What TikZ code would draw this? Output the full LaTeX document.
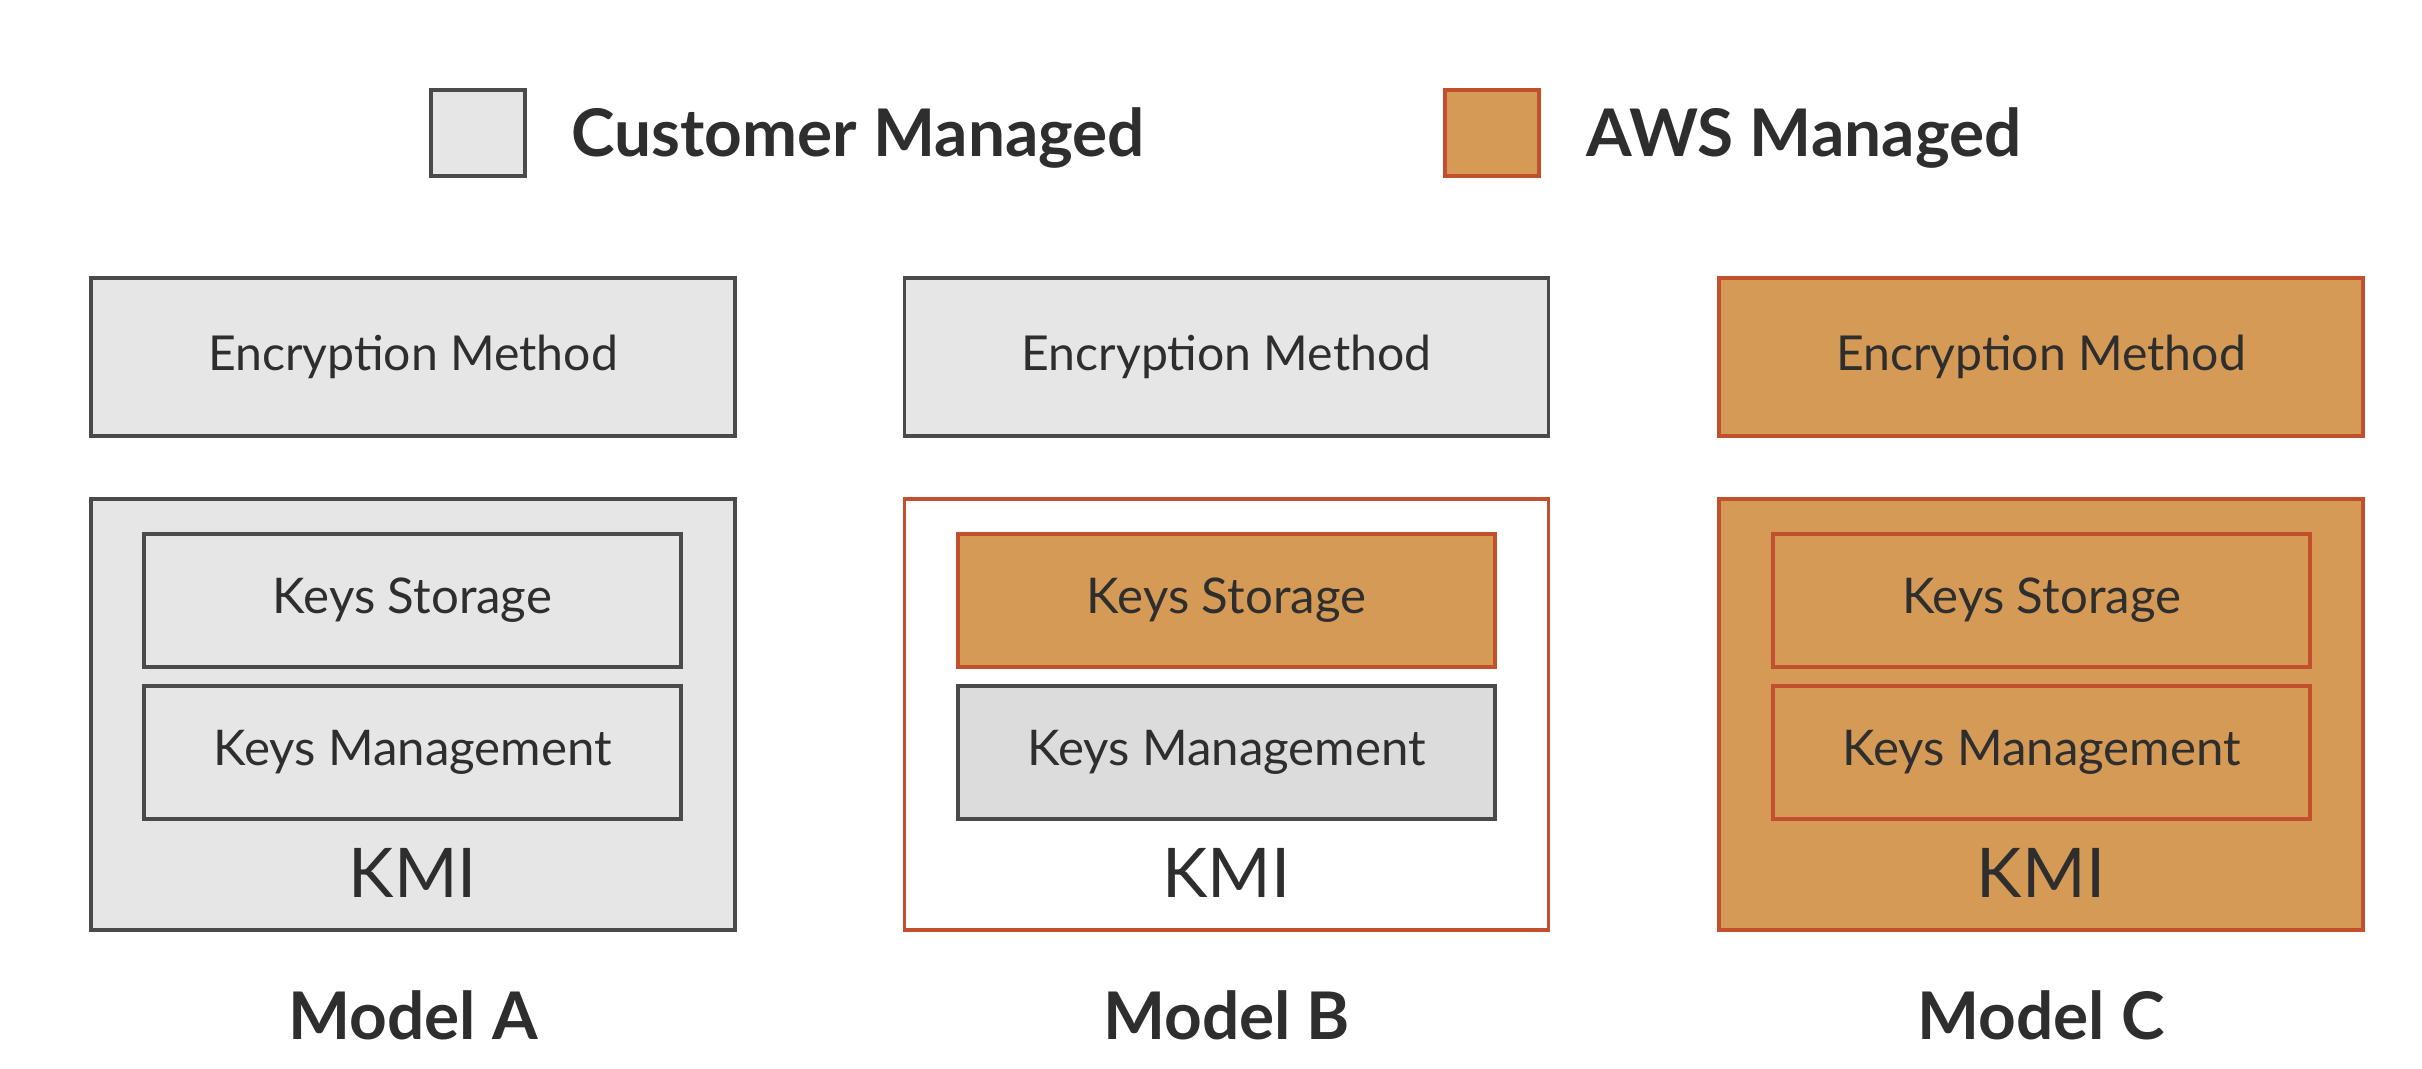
\documentclass[tikz,border=0pt]{standalone}
\usepackage{fontspec}
\setmainfont{Lato}
\usepackage{tikz}
\definecolor{custfill}{HTML}{E6E6E6}
\definecolor{custfilldk}{HTML}{DCDCDC}
\definecolor{custline}{HTML}{4A4A4A}
\definecolor{awsfill}{HTML}{D59A55}
\definecolor{awsline}{HTML}{C2502C}
\definecolor{txt}{HTML}{2E2E2E}

\begin{document}
\begin{tikzpicture}[every node/.style={rectangle, text=txt, inner sep=0pt}, cust/.style={draw=custline, fill=custfill, line width=1pt}, aws/.style={draw=awsline, fill=awsfill, line width=1pt}, encbox/.style={minimum width=6.44cm, minimum height=1.58cm, font=\fontsize{13.7}{16}\selectfont}, kmibox/.style={minimum width=6.44cm, minimum height=4.31cm}, keybox/.style={minimum width=5.37cm, minimum height=1.33cm, font=\fontsize{14}{16}\selectfont}, kmi/.style={font=\fontsize{19.5}{22}\selectfont}, title/.style={font=\bfseries\fontsize{18.7}{22}\selectfont}]
			\useasboundingbox (0,0) rectangle (24.22,10.68);
			
			\node[cust, minimum width=0.94cm, minimum height=0.86cm] (legcust) at (4.78,9.35){};
			\node[title, anchor=west] (legcusttext) at (5.71,9.3){Customer Managed};
			\node[aws, minimum width=0.94cm, minimum height=0.86cm] (legaws) at (14.92,9.35){};
			\node[title, anchor=west] (legawstext) at (15.86,9.3){AWS Managed};
			
			\node[cust, encbox] (encA) at (4.13,7.11){Encryption Method};
			\node[cust, kmibox] (kmiA) at (4.13,3.535){};
			\node[cust, keybox] (storA) at (4.125,4.675){Keys Storage};
			\node[cust, keybox] (mgmtA) at (4.125,3.155){Keys Management};
			\node[kmi] (kmiAtext) at (4.13,1.95){KMI};
			\node[title] (modelA) at (4.13,0.53){Model A};
			
			\node[cust, encbox] (encB) at (12.265,7.11){Encryption Method};
			\node[draw=awsline, fill=white, line width=1pt, kmibox] (kmiB) at (12.265,3.535){};
			\node[aws, keybox] (storB) at (12.265,4.675){Keys Storage};
			\node[cust, fill=custfilldk, keybox] (mgmtB) at (12.265,3.155){Keys Management};
			\node[kmi] (kmiBtext) at (12.265,1.95){KMI};
			\node[title] (modelB) at (12.265,0.53){Model B};
			
			\node[aws, encbox] (encC) at (20.41,7.11){Encryption Method};
			\node[aws, kmibox] (kmiC) at (20.41,3.535){};
			\node[aws, keybox] (storC) at (20.415,4.675){Keys Storage};
			\node[aws, keybox] (mgmtC) at (20.415,3.155){Keys Management};
			\node[kmi] (kmiCtext) at (20.41,1.95){KMI};
			\node[title] (modelC) at (20.41,0.53){Model C};
			\end{tikzpicture}
\end{document}
